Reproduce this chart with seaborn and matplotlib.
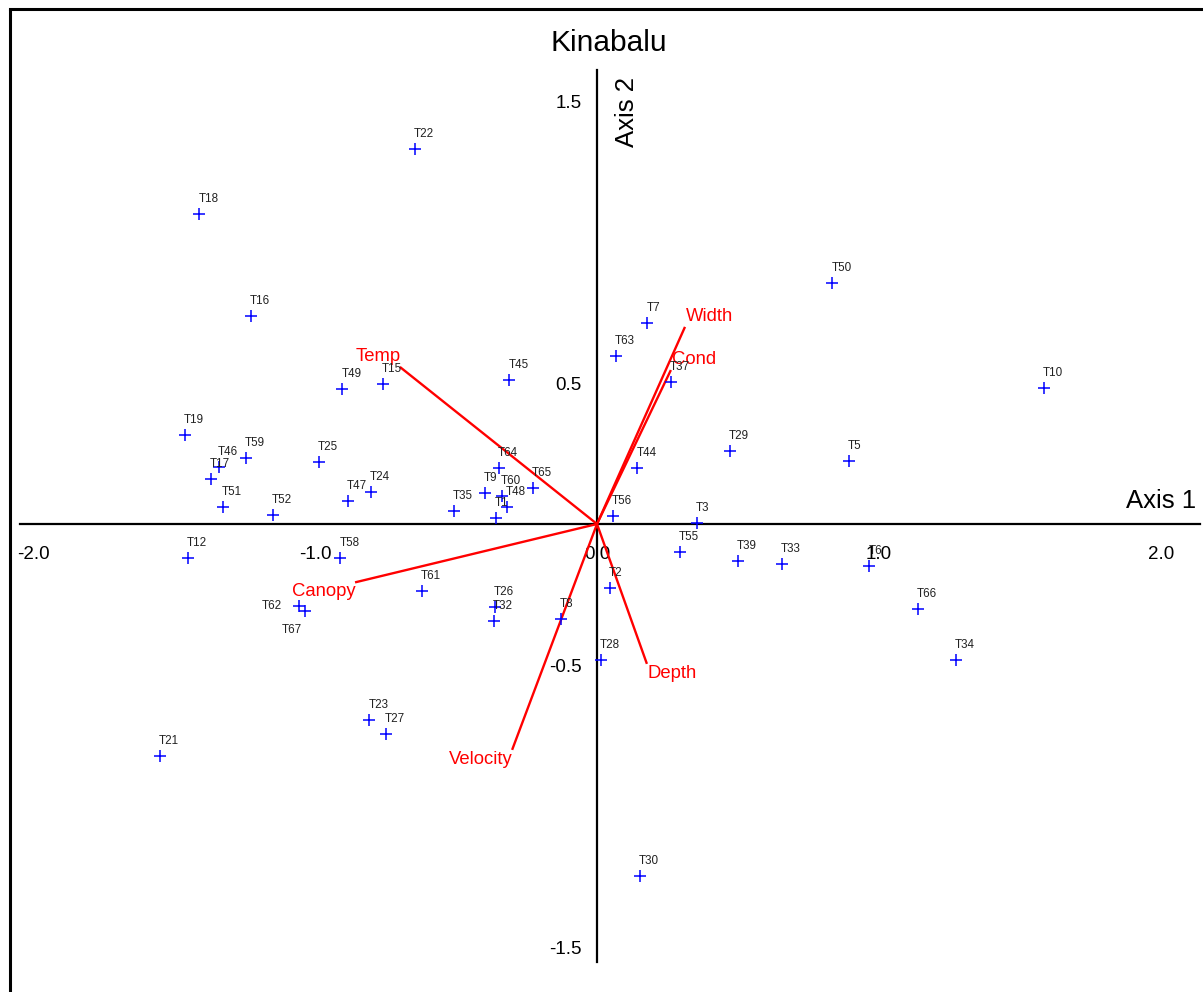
import matplotlib
matplotlib.use("Agg")
import matplotlib.pyplot as plt
import seaborn as sns
import pandas as pd
from matplotlib.lines import Line2D

# ---- data (CCA scores) ----
sites = ["T22", "T18", "T16", "T50", "T7", "T63", "T37", "T10", "T49", "T15",
         "T45", "T19", "T59", "T46", "T17", "T25", "T51", "T52", "T47", "T24",
         "T35", "T9", "T60", "T48", "T1", "T64", "T65", "T56", "T44", "T29",
         "T5", "T3", "T55", "T39", "T33", "T6", "T2", "T66", "T34", "T28",
         "T12", "T58", "T61", "T62", "T67", "T26", "T32", "T8", "T23", "T27",
         "T21", "T30"]
axis1 = [-0.646, -1.410, -1.228, 0.835, 0.179, 0.066, 0.262, 1.585, -0.903, -0.760,
         -0.311, -1.461, -1.245, -1.340, -1.369, -0.986, -1.326, -1.149, -0.884, -0.802,
         -0.507, -0.397, -0.337, -0.319, -0.358, -0.348, -0.227, 0.055, 0.143, 0.470,
         0.892, 0.355, 0.293, 0.500, 0.656, 0.966, 0.045, 1.138, 1.273, 0.014,
         -1.450, -0.910, -0.621, -1.056, -1.035, -0.363, -0.367, -0.129, -0.807, -0.750,
         -1.549, 0.153]
axis2 = [1.331, 1.101, 0.739, 0.856, 0.711, 0.594, 0.504, 0.482, 0.480, 0.498,
         0.509, 0.316, 0.234, 0.202, 0.158, 0.219, 0.060, 0.032, 0.080, 0.115,
         0.046, 0.110, 0.099, 0.060, 0.021, 0.199, 0.128, 0.029, 0.198, 0.260,
         0.223, 0.005, -0.100, -0.131, -0.143, -0.149, -0.228, -0.303, -0.482, -0.482,
         -0.119, -0.122, -0.236, -0.291, -0.307, -0.295, -0.344, -0.337, -0.695, -0.746,
         -0.824, -1.247]

variables = ["Width", "Cond", "Temp", "Canopy", "Velocity", "Depth"]
var_axis1 = [0.312, 0.262, -0.699, -0.858, -0.301, 0.177]
var_axis2 = [0.699, 0.546, 0.557, -0.207, -0.801, -0.496]

x_ticks = [-2.0, -1.5, -1.0, -0.5, 0.0, 0.5, 1.0, 1.5, 2.0]
x_tick_labels = ["-2.0", "", "-1.0", "", "0.0", "", "1.0", "", "2.0"]
y_ticks = [-1.5, -1.0, -0.5, 0.5, 1.0, 1.5]
y_tick_labels = ["-1.5", "", "-0.5", "0.5", "", "1.5"]

title = "Kinabalu"
x_label = "Axis 1"
y_label = "Axis 2"

# ---- style ----
sns.set_style("white")
plt.rcParams["font.family"] = ["Liberation Sans", "DejaVu Sans"]

W, H = 1203, 992
fig = plt.figure(figsize=(W / 100, H / 100), dpi=100)
ax = fig.add_axes([0, 0, 1, 1])
ax.set_facecolor("white")

S = 282.0
X0, Y0 = 597.0, 524.0
ax.set_xlim(-X0 / S, (W - X0) / S)
ax.set_ylim(-(H - Y0) / S, Y0 / S)

# axes through the origin
for side in ["top", "right"]:
    ax.spines[side].set_visible(False)
ax.spines["left"].set_position(("data", 0))
ax.spines["bottom"].set_position(("data", 0))
ax.spines["left"].set_bounds(-1.553, 1.610)
ax.spines["bottom"].set_bounds(-2.045, 2.14)
for side in ["left", "bottom"]:
    ax.spines[side].set_linewidth(1.6)
    ax.spines[side].set_color("black")

ax.set_xticks(x_ticks)
ax.set_xticklabels(x_tick_labels)
ax.set_yticks(y_ticks)
ax.set_yticklabels(y_tick_labels)
ax.tick_params(axis="x", direction="out", length=7, width=1.5, labelsize=13.5,
               pad=9, colors="black")
ax.tick_params(axis="y", direction="out", length=5.5, width=1.5, labelsize=13.5,
               pad=5.5, colors="black")
ax.grid(False)

# environmental arrows
for name, x, y in zip(variables, var_axis1, var_axis2):
    ax.plot([0, x], [0, y], color="#ff0000", lw=1.7, zorder=3,
            solid_capstyle="butt")
    ha = "left" if x > 0 else "right"
    if y > 0:
        dy, va = 6, "baseline"
    else:
        dy, va = -1, "top"
    ax.annotate(name, (x, y), xytext=(1, dy), textcoords="offset pixels",
                ha=ha, va=va, fontsize=13.3, color="#ff0000", zorder=5)

# sites
df = pd.DataFrame({"site": sites, "Axis 1": axis1, "Axis 2": axis2})
sns.scatterplot(data=df, x="Axis 1", y="Axis 2", marker="+", color="#0000ff",
                s=72, linewidth=1.1, ax=ax, zorder=4, legend=False)
ax.set_xlabel("")
ax.set_ylabel("")

label_place = {"T62": (-17, -3, "right"), "T67": (-3, -22, "right")}
for name, x, y in zip(df["site"], df["Axis 1"], df["Axis 2"]):
    dx, dy, ha = label_place.get(name, (-1, 12, "left"))
    ax.annotate(name, (x, y), xytext=(dx, dy), textcoords="offset pixels",
                ha=ha, va="baseline", fontsize=8.4, color="#222222", zorder=5)

# axis titles
ax.text(2.125, (Y0 - 508) / S, x_label, ha="right", va="baseline",
        fontsize=18.5, color="black")
ax.text((627 - X0) / S, (Y0 - 112) / S, y_label, ha="center", va="center",
        rotation=90, fontsize=18.5, color="black")
fig.text(609 / W, 1 - 43 / H, title, ha="center", va="center",
         fontsize=21.5, color="black")

# frame on the top and left edges of the picture
fig.add_artist(Line2D([10 / W, 10 / W], [0, 1 - 8.7 / H], transform=fig.transFigure,
                      color="black", lw=2.2))
fig.add_artist(Line2D([10 / W, 1], [1 - 8.7 / H, 1 - 8.7 / H], transform=fig.transFigure,
                      color="black", lw=2.2, solid_capstyle="projecting"))

fig.savefig("out.png", dpi=100, facecolor="white")
